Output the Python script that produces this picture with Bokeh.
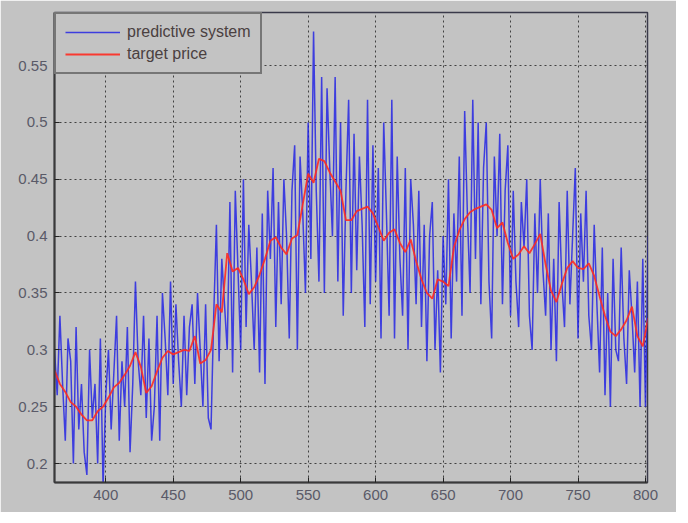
import numpy as np
from bokeh.plotting import figure
from bokeh.models import Range1d, FixedTicker, Legend, LegendItem
from bokeh.embed import file_html
from bokeh.resources import INLINE

# ---- data ----
x_ticks = [400, 450, 500, 550, 600, 650, 700, 750, 800]
x_tick_labels = ["400", "450", "500", "550", "600", "650", "700", "750", "800"]
y_ticks = [0.2, 0.25, 0.3, 0.35, 0.4, 0.45, 0.5, 0.55]
y_tick_labels = ["0.2", "0.25", "0.3", "0.35", "0.4", "0.45", "0.5", "0.55"]

series_names = ["predictive system", "target price"]

# target price, sampled every 4 units from 362 to 802
target_x = list(range(362, 803, 4))
target_price = [
    0.282, 0.270, 0.263, 0.254, 0.250, 0.243, 0.238, 0.238, 0.246, 0.250,
    0.258, 0.267, 0.271, 0.278, 0.286, 0.298, 0.285, 0.262, 0.268, 0.281,
    0.293, 0.299, 0.296, 0.298, 0.300, 0.299, 0.312, 0.288, 0.291, 0.300,
    0.340, 0.333, 0.385, 0.369, 0.372, 0.362, 0.349, 0.355, 0.366, 0.380,
    0.396, 0.399, 0.390, 0.384, 0.398, 0.401, 0.428, 0.455, 0.447, 0.468,
    0.466, 0.456, 0.448, 0.440, 0.414, 0.414, 0.422, 0.424, 0.426, 0.420,
    0.408, 0.396, 0.403, 0.406, 0.394, 0.386, 0.397, 0.378, 0.362, 0.350,
    0.345, 0.362, 0.360, 0.356, 0.390, 0.405, 0.415, 0.421, 0.424, 0.426,
    0.428, 0.423, 0.407, 0.412, 0.394, 0.380, 0.384, 0.391, 0.385, 0.393,
    0.402, 0.375, 0.352, 0.342, 0.358, 0.372, 0.378, 0.372, 0.371, 0.376,
    0.365, 0.347, 0.330, 0.316, 0.312, 0.318, 0.326, 0.338, 0.312, 0.303,
    0.328,
]

# predictive system, sampled every 2 units from 362 to 802
predict_x = list(range(362, 803, 2))
predictive_system = [
    0.30, 0.26, 0.33, 0.27, 0.22, 0.31, 0.29, 0.20, 0.32, 0.23,
    0.27, 0.21, 0.19, 0.30, 0.24, 0.27, 0.20, 0.31, 0.18, 0.26,
    0.30, 0.23, 0.28, 0.33, 0.22, 0.29, 0.25, 0.32, 0.21, 0.27,
    0.36, 0.29, 0.26, 0.33, 0.24, 0.31, 0.22, 0.25, 0.33, 0.22,
    0.35, 0.31, 0.26, 0.36, 0.27, 0.34, 0.29, 0.25, 0.33, 0.26,
    0.32, 0.34, 0.27, 0.35, 0.30, 0.25, 0.34, 0.24, 0.23, 0.33,
    0.41, 0.29, 0.38, 0.34, 0.30, 0.43, 0.28, 0.44, 0.37, 0.30,
    0.45, 0.32, 0.41, 0.36, 0.30, 0.39, 0.28, 0.42, 0.27, 0.44,
    0.38, 0.46, 0.32, 0.43, 0.34, 0.45, 0.40, 0.31, 0.44, 0.48,
    0.30, 0.47, 0.42, 0.35, 0.50, 0.38, 0.58, 0.44, 0.36, 0.54,
    0.35, 0.53, 0.46, 0.40, 0.54, 0.36, 0.50, 0.33, 0.44, 0.52,
    0.35, 0.49, 0.37, 0.47, 0.41, 0.32, 0.52, 0.34, 0.48, 0.36,
    0.46, 0.31, 0.50, 0.42, 0.33, 0.52, 0.31, 0.47, 0.38, 0.33,
    0.46, 0.30, 0.45, 0.41, 0.34, 0.44, 0.32, 0.41, 0.29, 0.40,
    0.43, 0.30, 0.37, 0.28, 0.40, 0.34, 0.45, 0.31, 0.42, 0.36,
    0.47, 0.33, 0.51, 0.42, 0.35, 0.52, 0.38, 0.50, 0.34, 0.46,
    0.50, 0.36, 0.31, 0.47, 0.40, 0.49, 0.34, 0.44, 0.48, 0.33,
    0.44, 0.36, 0.32, 0.43, 0.39, 0.45, 0.33, 0.30, 0.42, 0.35,
    0.45, 0.37, 0.33, 0.42, 0.30, 0.38, 0.29, 0.43, 0.36, 0.32,
    0.44, 0.34, 0.40, 0.46, 0.31, 0.42, 0.36, 0.44, 0.33, 0.30,
    0.41, 0.34, 0.28, 0.39, 0.26, 0.35, 0.25, 0.38, 0.30, 0.29,
    0.39, 0.31, 0.27, 0.37, 0.33, 0.28, 0.36, 0.25, 0.38, 0.25,
    0.40,
]

# ---- styling ----
BG = "#c3c3c3"
FONT = "Liberation Sans"

p = figure(
    width=676, height=512,
    output_backend="svg", toolbar_location=None,
    x_range=Range1d(362, 801.5), y_range=Range1d(0.1833, 0.5967),
    min_border_left=54, min_border_right=29, min_border_top=12, min_border_bottom=30,
    background_fill_color=BG, border_fill_color=BG,
)
p.outline_line_color = "#3a3a4a"
p.outline_line_width = 1.5

blue = p.line(predict_x, predictive_system, line_color="#1c1ce6", line_width=1.5, line_alpha=0.8)
red = p.line(target_x, target_price, line_color="#ff2a20", line_width=1.8, line_alpha=0.9)

p.xaxis.ticker = FixedTicker(ticks=x_ticks)
p.yaxis.ticker = FixedTicker(ticks=y_ticks)
p.xaxis.major_label_overrides = {t: s for t, s in zip(x_ticks, x_tick_labels)}
p.yaxis.major_label_overrides = {t: s for t, s in zip(y_ticks, y_tick_labels)}

for ax in (p.xaxis, p.yaxis):
    ax.major_tick_in = 5
    ax.major_tick_out = 0
    ax.minor_tick_line_color = None
    ax.major_tick_line_color = "#222222"
    ax.axis_line_color = "#3a3a3a"
    ax.axis_line_width = 2
    ax.major_label_text_font = FONT
    ax.major_label_text_font_size = "15px"
    ax.major_label_text_color = "#5a5a68"
p.xaxis.major_label_standoff = 7
p.yaxis.major_label_standoff = 7

for g in (p.xgrid, p.ygrid):
    g.grid_line_color = "#2a2a2a"
    g.grid_line_dash = "2 3"
    g.grid_line_width = 1
    g.grid_line_alpha = 0.85
p.xgrid.ticker = FixedTicker(ticks=x_ticks)
p.ygrid.ticker = FixedTicker(ticks=y_ticks)

legend = Legend(
    items=[LegendItem(label=series_names[0], renderers=[blue]),
           LegendItem(label=series_names[1], renderers=[red])],
    location="top_left",
)
legend.margin = 0
legend.padding = 9
legend.spacing = 4
legend.glyph_width = 55
legend.glyph_height = 18
legend.label_standoff = 7
legend.label_text_font = FONT
legend.label_text_font_size = "16px"
legend.label_text_color = "#4a4040"
legend.background_fill_color = BG
legend.background_fill_alpha = 1
legend.border_line_color = "#2a2a2a"
legend.border_line_width = 2
p.add_layout(legend)

open("out.html", "w").write(file_html(p, INLINE))
